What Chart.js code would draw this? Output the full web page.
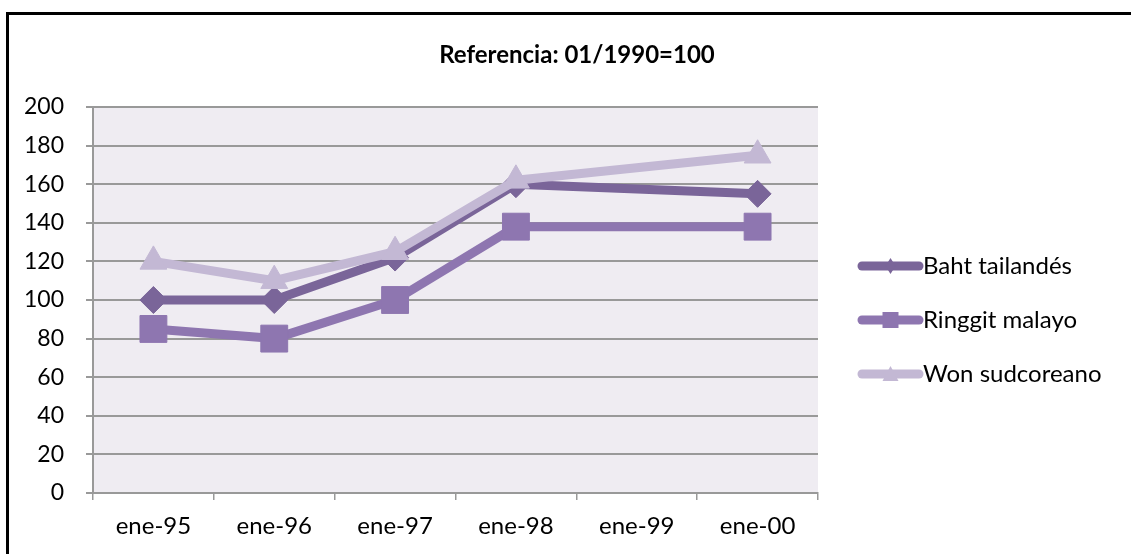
<!DOCTYPE html>
<html>
<head>
<meta charset="utf-8">
<script src="https://cdn.jsdelivr.net/npm/chart.js@4.4.1/dist/chart.umd.min.js"></script>
<style>
	body { margin: 0; background: #fff; overflow: hidden; }
	#frame { position: absolute; left: 6px; top: 12px; width: 1140px; height: 560px; border: 3px solid #000; box-sizing: border-box; }
	#wrap { position: absolute; left: 0; top: 0; width: 1131px; height: 554px; }
</style>
</head>
<body>
<div id="frame"></div>
<div id="wrap"><canvas id="fxChart" width="1131" height="554"></canvas></div>
<script>
const categories = ['ene-95', 'ene-96', 'ene-97', 'ene-98', 'ene-99', 'ene-00'];
const bahtValues = [100, 100, 122, 160, null, 155];
const ringgitValues = [85, 80, 100, 138, null, 138];
const wonValues = [120, 110, 125, 162, null, 175];
const yTicks = [0, 20, 40, 60, 80, 100, 120, 140, 160, 180, 200];
const chartTitle = 'Referencia: 01/1990=100';

const FONT = 'Lato, "Open Sans", sans-serif';

// title + legend with line and marker, drawn on the right like the original
const titleLegend = {
	id: 'titleLegend',
	afterDraw(chart) {
		const ctx = chart.ctx;
		ctx.save();
		ctx.fillStyle = '#000';
		ctx.font = 'bold 24px ' + FONT;
		ctx.textAlign = 'center';
		ctx.textBaseline = 'middle';
		ctx.fillText(chartTitle, 577, 55);

		const x0 = 862, x1 = 919;
		const rows = [266, 320, 374];
		chart.data.datasets.forEach(function(ds, i) {
			const y = rows[i];
			ctx.strokeStyle = ds.borderColor;
			ctx.lineWidth = 9;
			ctx.lineCap = 'round';
			ctx.beginPath();
			ctx.moveTo(x0, y);
			ctx.lineTo(x1, y);
			ctx.stroke();
			const cx = (x0 + x1) / 2;
			ctx.fillStyle = ds.borderColor;
			ctx.beginPath();
			if (ds.pointStyle === 'rectRot') {
				ctx.moveTo(cx, y - 8); ctx.lineTo(cx + 5, y); ctx.lineTo(cx, y + 8); ctx.lineTo(cx - 5, y);
			} else if (ds.pointStyle === 'rect') {
				ctx.rect(cx - 8, y - 8, 16, 16);
			} else {
				ctx.moveTo(cx, y - 8); ctx.lineTo(cx + 8, y + 7); ctx.lineTo(cx - 8, y + 7);
			}
			ctx.closePath();
			ctx.fill();
			ctx.fillStyle = '#000';
			ctx.font = '24px ' + FONT;
			ctx.textAlign = 'left';
			ctx.fillText(ds.label, 923, y);
		});
		ctx.restore();
	}
};

const plotBg = {
	id: 'plotBg',
	beforeDraw(chart) {
		const a = chart.chartArea;
		chart.ctx.save();
		chart.ctx.fillStyle = '#efecf2';
		chart.ctx.fillRect(a.left, a.top, a.right - a.left, a.bottom - a.top);
		chart.ctx.restore();
	}
};

const ctx = document.getElementById('fxChart').getContext('2d');
new Chart(ctx, {
	type: 'line',
	data: {
		labels: categories,
		datasets: [{
			label: 'Baht tailandés',
			data: bahtValues,
			borderColor: '#7a6599',
			backgroundColor: '#7a6599',
			borderWidth: 9,
			pointStyle: 'rectRot',
			pointRadius: 13.5,
			pointBorderWidth: 1,
			order: 3
		}, {
			label: 'Ringgit malayo',
			data: ringgitValues,
			borderColor: '#8e76b0',
			backgroundColor: '#8e76b0',
			borderWidth: 9,
			pointStyle: 'rect',
			pointRadius: 19,
			pointBorderWidth: 1,
			order: 2
		}, {
			label: 'Won sudcoreano',
			data: wonValues,
			borderColor: '#c3b8d4',
			backgroundColor: '#c3b8d4',
			borderWidth: 9,
			pointStyle: 'triangle',
			pointRadius: 15.5,
			pointBorderWidth: 1,
			order: 1
		}]
	},
	options: {
		responsive: false,
		animation: false,
		spanGaps: true,
		layout: {
			padding: { left: 10, right: 313, top: 107, bottom: 11 }
		},
		elements: {
			line: { tension: 0, borderJoinStyle: 'round', borderCapStyle: 'round' }
		},
		plugins: {
			legend: { display: false },
			title: { display: false },
			tooltip: { enabled: false }
		},
		scales: {
			x: {
				offset: true,
				grid: { offset: true, drawOnChartArea: false, drawTicks: true, tickLength: 7, color: '#999', lineWidth: 1.5 },
				border: { color: '#999', width: 2 },
				ticks: { color: '#000', font: { family: FONT, size: 24 }, padding: 12, maxRotation: 0 },
				afterFit: function(scale) { scale.height = 50; }
			},
			y: {
				min: 0,
				max: 200,
				afterBuildTicks: function(scale) { scale.ticks = yTicks.map(v => ({ value: v })); },
				grid: { color: '#999', lineWidth: 2, tickLength: 7 },
				border: { color: '#999', width: 2 },
				ticks: { color: '#000', font: { family: FONT, size: 23 }, padding: 22 },
				afterFit: function(scale) { scale.width = 83; }
			}
		}
	},
	plugins: [plotBg, titleLegend]
});
</script>
</body>
</html>
